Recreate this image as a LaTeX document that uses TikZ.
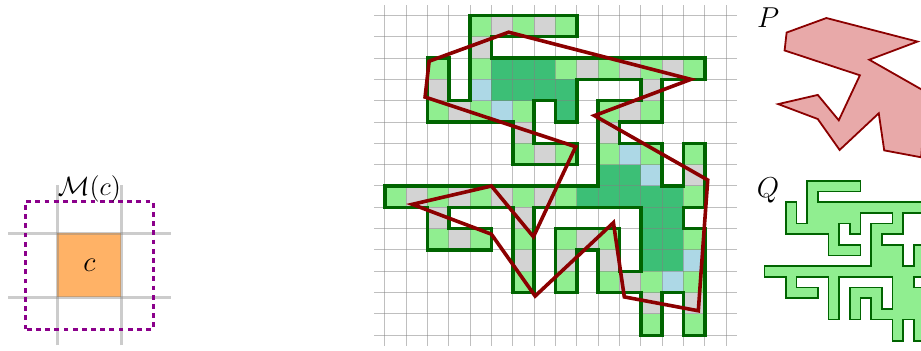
\documentclass[tikz,border=0pt]{standalone}
\usepackage{amsmath,amssymb}
\usepackage{xcolor}
\usetikzlibrary{positioning}
\definecolor{cellgreen}{HTML}{90EE90}
\definecolor{cellgray}{HTML}{D3D3D3}
\definecolor{cellblue}{HTML}{ADD8E6}
\definecolor{celldark}{HTML}{3CBF76}
\definecolor{polyred}{HTML}{8B0000}
\definecolor{polyfill}{HTML}{E8A9A9}
\definecolor{outgreen}{HTML}{006400}
\definecolor{nbhdpurple}{HTML}{8B008B}
\newcommand{\polyP}{(5.81,14.21) -- (2.08,12.85) -- (1.89,11.17) -- (8.95,8.84) -- (6.97,4.62)
  -- (5,7) -- (1.29,6.14) -- (5,4.74) -- (7.05,1.84) -- (10.72,5.28) -- (11.23,1.8)
  -- (14.7,1.15) -- (15.14,7.28) -- (9.83,10.3) -- (14.35,12) -- cycle}
\newcommand{\polyQ}{(4,15) -- (9,15) -- (9,14) -- (5,14) -- (5,13) -- (15,13) -- (15,12) -- (13,12)
  -- (13,10) -- (11,10) -- (11,9) -- (13,9) -- (13,7) -- (14,7) -- (14,9) -- (15,9) -- (15,6)
  -- (14,6) -- (14,5) -- (15,5) -- (15,0) -- (14,0) -- (14,2) -- (13,2) -- (13,0) -- (12,0)
  -- (12,2) -- (10,2) -- (10,4) -- (9,4) -- (9,2) -- (8,2) -- (8,5) -- (11,5) -- (11,3)
  -- (12,3) -- (12,6) -- (7,6) -- (7,2) -- (6,2) -- (6,6) -- (3,6) -- (3,5) -- (5,5) -- (5,4)
  -- (2,4) -- (2,6) -- (0,6) -- (0,7) -- (10,7) -- (10,11) -- (12,11) -- (12,12) -- (9,12)
  -- (9,10) -- (8,10) -- (8,11) -- (7,11) -- (7,9) -- (9,9) -- (9,8) -- (6,8) -- (6,10)
  -- (2,10) -- (2,13) -- (3,13) -- (3,11) -- (4,11) -- cycle}

\begin{document}
\begin{tikzpicture}[
  x=0.375cm, y=0.375cm,
  every node/.style={font=\Large, inner sep=0pt},
  gridline/.style={draw=gray, opacity=0.5, line width=0.5pt},
  thickgrid/.style={draw=gray, opacity=0.4, line width=1.2pt},
  outline/.style={draw=outgreen, line width=1.8pt},
  polyline/.style={draw=polyred, line width=1.8pt},
]
  \useasboundingbox (-18.04,-0.689) rectangle (25.14,15.72);

  % Left: one cell and its neighbourhood
  \begin{scope}[shift={(-15.35,1.78)}, scale=3]
    \fill[orange!60] (0,0) rectangle (1,1);
    \foreach \t in {0,1} {
      \draw[thickgrid] (-0.77,\t) -- (1.77,\t);
      \draw[thickgrid] (\t,-0.75) -- (\t,1.75);
    }
    \draw[nbhdpurple, line width=1.3pt, dash pattern=on 2.4pt off 2.2pt]
      (-0.5,-0.5) rectangle (1.5,1.5);
    \node (cell) at (0.5,0.5) {$c$};
    \node[scale=0.92] (nbhd) at (0.5,1.69) {$\mathcal{M}(c)$};
  \end{scope}

  % Middle: cells of the grid
  \foreach \c/\r in {4/14,6/14,8/14,2/12,4/12,8/12,10/12,12/12,14/12,2/10,4/10,6/10,10/10,12/10,
                     6/8,8/8,10/8,12/8,14/8,0/6,2/6,4/6,6/6,8/6,14/6,2/4,4/4,6/4,8/4,10/4,14/4,
                     6/2,8/2,10/2,12/2,14/2,12/0,14/0}
    \fill[cellgreen] (\c,\r) rectangle ++(1,1);
  \foreach \c/\r in {5/14,7/14,4/13,9/12,11/12,13/12,2/11,12/11,3/10,11/10,6/9,10/9,7/8,14/7,
                     1/6,3/6,5/6,7/6,2/5,6/5,3/4,9/4,6/3,8/3,10/3,11/2,12/1,14/1}
    \fill[cellgray] (\c,\r) rectangle ++(1,1);
  \foreach \c/\r in {4/11,5/10,11/8,12/7,14/3,13/2}
    \fill[cellblue] (\c,\r) rectangle ++(1,1);
  \foreach \c/\r in {5/12,6/12,7/12,5/11,6/11,7/11,8/11,8/10,10/7,11/7,9/6,10/6,11/6,12/6,13/6,
                     12/5,13/5,12/4,13/4,12/3,13/3}
    \fill[celldark] (\c,\r) rectangle ++(1,1);

  \foreach \x in {0,...,16}
    \draw[gridline] (\x,-0.5) -- (\x,15.5);
  \foreach \y in {0,...,15}
    \draw[gridline] (-0.5,\y) -- (16.5,\y);

  \draw[outline] \polyQ;
  \draw[polyline] \polyP;

  % Right: the two shapes alone
  \begin{scope}
    \clip (-18.04,-0.689) rectangle (25.14,15.72);
    \begin{scope}[shift={(17.8,7.77)}, scale=0.5]
      \draw[fill=polyfill, draw=polyred, line width=0.9pt] \polyP;
    \end{scope}
    \begin{scope}[shift={(17.8,-0.26)}, scale=0.5]
      \draw[fill=cellgreen, draw=outgreen, line width=0.9pt] \polyQ;
    \end{scope}
  \end{scope}
  \node (labelP) at (17.97,14.9) {$P$};
  \node (labelQ) at (17.97,6.77) {$Q$};
\end{tikzpicture}
\end{document}
